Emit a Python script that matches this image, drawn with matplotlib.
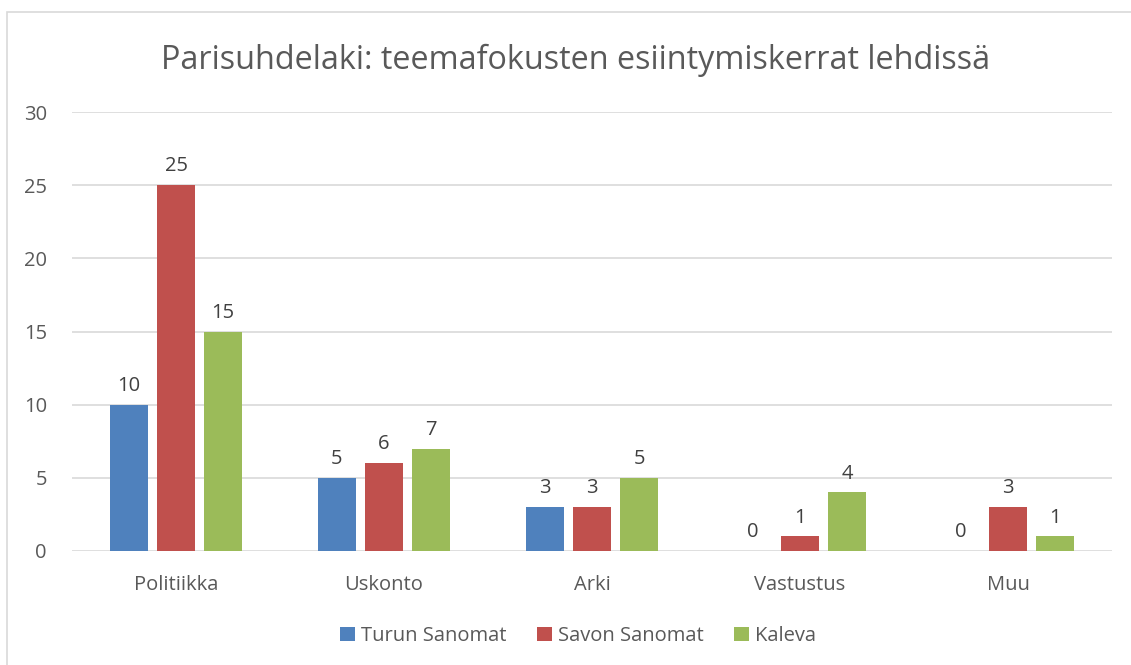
import numpy as np
import matplotlib.pyplot as plt
from matplotlib.patches import Rectangle

categories = ["Politiikka", "Uskonto", "Arki", "Vastustus", "Muu"]
series = ["Turun Sanomat", "Savon Sanomat", "Kaleva"]
turun = [10, 5, 3, 0, 0]
savon = [25, 6, 3, 1, 3]
kaleva = [15, 7, 5, 4, 1]
colors = ["#4F81BD", "#C0504D", "#9BBB59"]
text_col = "#595959"

plt.rcParams['font.family'] = ['Open Sans', 'DejaVu Sans']

fig = plt.figure(figsize=(11.31, 6.65), dpi=100)
# outer chart border
fig.patches.append(Rectangle((7 / 1131, -0.05), 1.1, (665 - 12) / 665 + 0.05,
                             transform=fig.transFigure, fill=False,
                             edgecolor="#D9D9D9", linewidth=1.2))

ax = fig.add_axes([72 / 1131, 114 / 665, 1040 / 1131, 439 / 665])
x = np.arange(len(categories))
width = 0.178
offset = 0.226
for i, (vals, name) in enumerate(zip([turun, savon, kaleva], series)):
    bars = ax.bar(x + (i - 1) * offset, vals, width, color=colors[i], label=name, zorder=3)
    for b, v in zip(bars, vals):
        ax.text(b.get_x() + b.get_width() / 2, v + 0.6, str(v), ha="center", va="bottom",
                fontsize=14.5, color="#404040")

ax.set_xlim(-0.5, len(categories) - 0.5)
ax.set_ylim(0, 30)
ax.set_yticks(range(0, 31, 5))
ax.yaxis.grid(True, color="#D9D9D9", linewidth=1.2, zorder=0)
ax.set_xticks(x)
ax.set_xticklabels(categories)
ax.tick_params(axis="both", length=0, labelsize=14.5, colors=text_col)
ax.tick_params(axis="x", pad=17)
ax.tick_params(axis="y", pad=18)
for s in ax.spines.values():
    s.set_visible(False)

fig.text(576 / 1131, 1 - 60 / 665, "Parisuhdelaki: teemafokusten esiintymiskerrat lehdissä",
         ha="center", va="center", fontsize=23.3, color=text_col)

fig.legend(loc="center", bbox_to_anchor=(578 / 1131, 1 - 636 / 665), ncol=3, frameon=False,
           fontsize=14.5, labelcolor=text_col, handlelength=0.75, handleheight=0.75,
           handletextpad=0.3, columnspacing=1.5)

fig.savefig("out.png", dpi=100)
